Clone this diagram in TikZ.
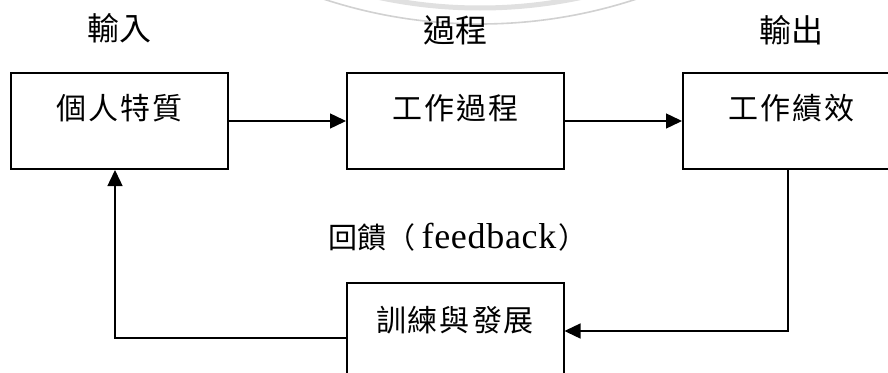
\documentclass[tikz,border=0pt]{standalone}
\usepackage{fontspec}
\setmainfont{Liberation Serif}
\newfontfamily\cjk{Noto Sans CJK TC}
\usetikzlibrary{arrows.meta}
\tikzset{
  box/.style={draw=black, line width=2pt, minimum width=217pt, minimum height=96pt, inner sep=0pt},
  boxtext/.style={font=\cjk\fontsize{30pt}{30pt}\selectfont, inner sep=0pt},
  toptext/.style={font=\cjk\fontsize{32pt}{32pt}\selectfont, inner sep=0pt},
  arr/.style={line width=1.4pt, -{Triangle[length=16pt,width=15pt]}},
  wm/.style={draw=black!18}
}
\newcommand\gp{\kern2pt}
\newcommand\lsp{\kern0.7pt}
\begin{document}
\begin{tikzpicture}[x=1pt,y=-1pt]
\clip (0,0) rectangle (888,372);
\fill[white] (0,0) rectangle (888,372);
% watermark ring
\draw[wm, line width=1.6pt] (480,-476) circle (500);
\draw[draw=black!12, line width=5pt] (480,-476) circle (484);
% top labels
\node[toptext] (lin) at (119,28) {輸入};
\node[toptext] (lpr) at (455,30) {過程};
\node[toptext] (lout) at (791,30) {輸出};
% boxes
\node[box] (b1) at (119.5,121) {};
\node[box] (b2) at (455.5,121) {};
\node[box] (b3) at (791.5,121) {};
\node[box] (b4) at (455,331) {};
\node[boxtext] (t1) at ([yshift=12.5pt]b1.center) {個\gp 人\gp 特\gp 質};
\node[boxtext] (t2) at ([yshift=12.5pt]b2.center) {工\gp 作\gp 過\gp 程};
\node[boxtext] (t3) at ([yshift=12.5pt]b3.center) {工\gp 作\gp 績\gp 效};
\node[boxtext] (t4) at ([yshift=11pt]b4.center) {訓\gp 練\gp 與\gp 發\gp 展};
% feedback label
\node[inner sep=0pt, anchor=base] (fb) at (458,248) {{\cjk\fontsize{29pt}{29pt}\selectfont 回饋（}\kern6pt{\fontsize{36pt}{36pt}\selectfont f\lsp e\lsp e\lsp d\lsp b\lsp a\lsp c\lsp k}\kern2pt{\cjk\fontsize{29pt}{29pt}\selectfont ）}};
% connectors
\draw[arr] (b1.east) -- (b2.west);
\draw[arr] (b2.east) -- (b3.west);
\draw[arr] ([xshift=-3.5pt]b3.south) |- (b4.east);
\draw[arr] ([yshift=-7pt]b4.west) -| ([xshift=-4.5pt]b1.south);
\end{tikzpicture}
\end{document}
